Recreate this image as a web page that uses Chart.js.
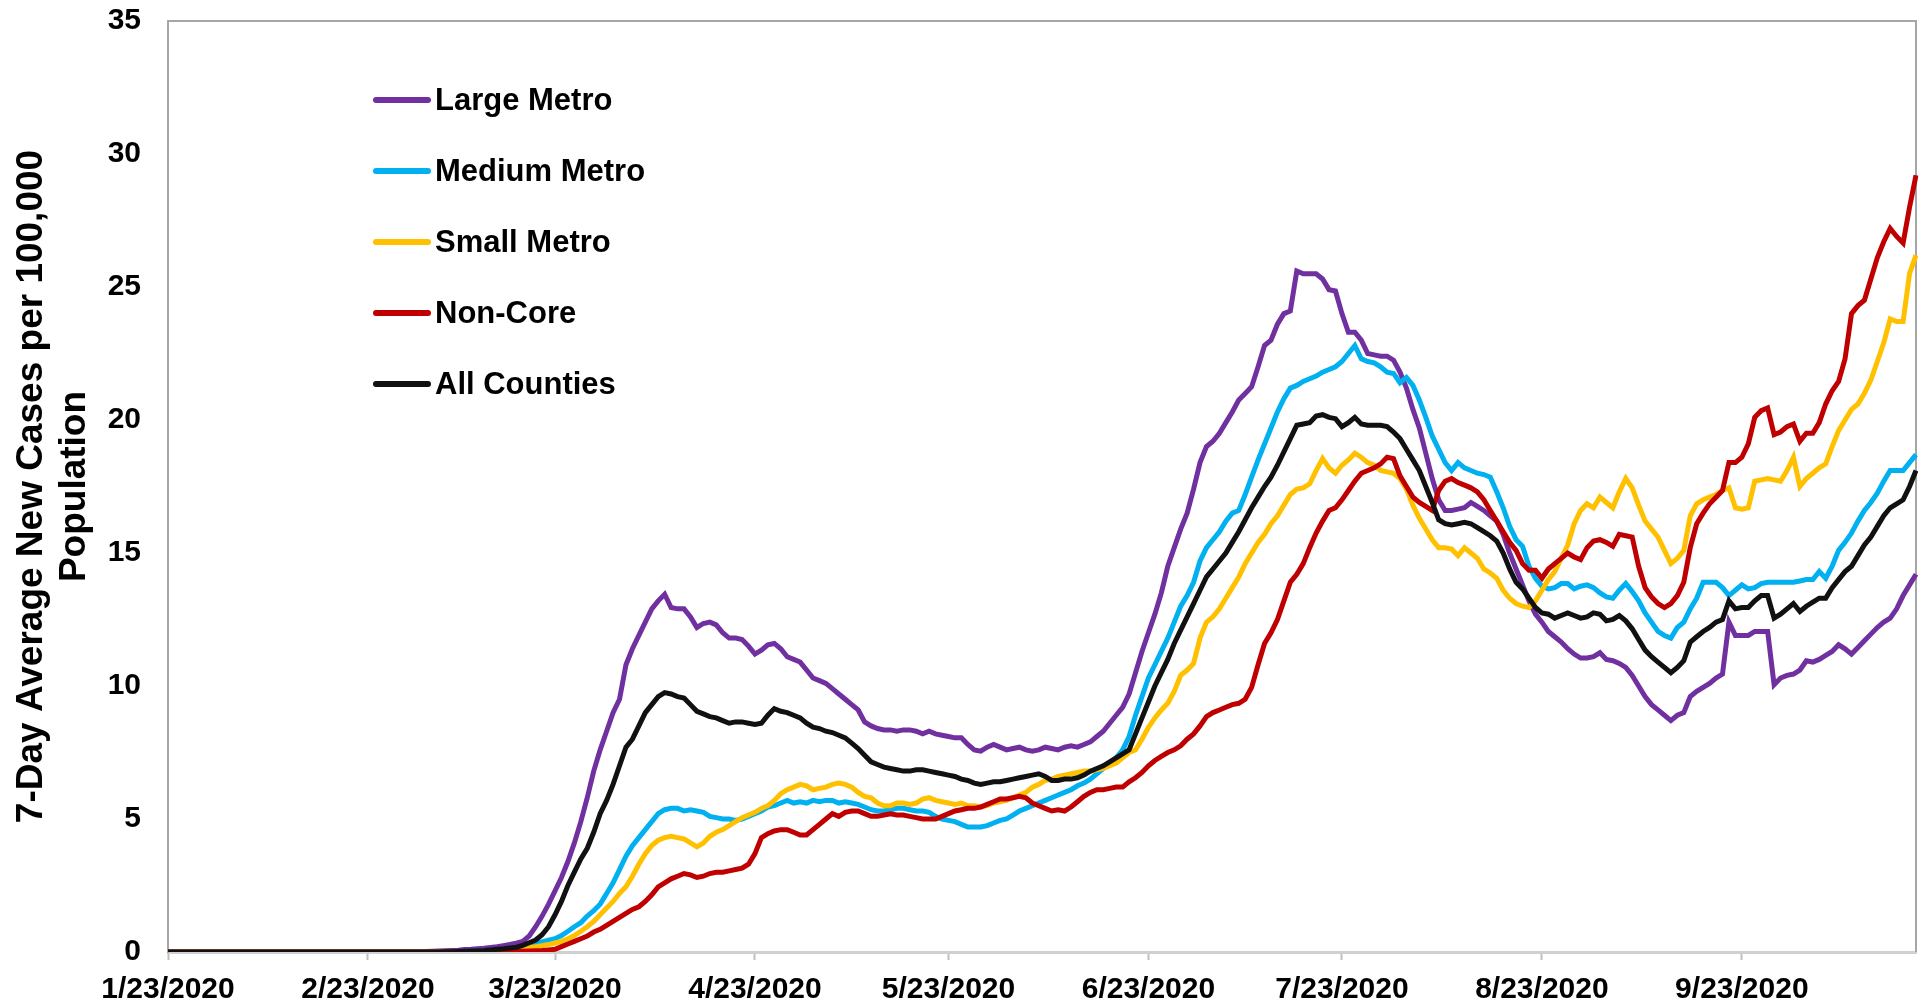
<!DOCTYPE html>
<html>
<head>
<meta charset="utf-8">
<script src="https://cdn.jsdelivr.net/npm/chart.js@4/dist/chart.umd.min.js"></script>
<style>
  html, body { margin: 0; padding: 0; background: #fff; overflow: hidden; }
  #wrap { width: 1921px; height: 1006px; }
</style>
</head>
<body>
<div id="wrap"><canvas id="casesChart" width="1921" height="1006"></canvas></div>
<script>
// daily categories, 1/23/2020 .. 10/20/2020
const firstDay = Date.UTC(2020, 0, 23);
const dayCount = 272;
const dateLabels = [];
for (let i = 0; i < dayCount; i++) {
    const d = new Date(firstDay + i * 86400000);
    dateLabels.push((d.getUTCMonth() + 1) + '/' + d.getUTCDate() + '/' + d.getUTCFullYear());
}

const seriesNames = ['Large Metro', 'Medium Metro', 'Small Metro', 'Non-Core', 'All Counties'];
const seriesColors = ['#7030A0', '#00B0F0', '#FFC000', '#C00000', '#111111'];

const largeMetro = [
    0,0,0,0,0,0,0,0,0,0, 0,0,0,0,0,0,0,0,0,0, 0,0,0,0,0,0,0,0,0,0, 0,0,0,0,0,0,0,0,0,0,
    0.02,0.03,0.04,0.05,0.06,0.07,0.09,0.1,0.12,0.14,
    0.17,0.2,0.24,0.28,0.33,0.4,0.6,0.95,1.35,1.8,
    2.3,2.8,3.4,4.1,4.9,5.8,6.8,7.6,8.3,9.0,
    9.5,10.8,11.4,11.9,12.4,12.9,13.2,13.45,12.95,12.9,
    12.9,12.6,12.2,12.35,12.4,12.3,12.0,11.8,11.8,11.75,
    11.5,11.2,11.35,11.55,11.6,11.4,11.1,11.0,10.9,10.6,
    10.3,10.2,10.1,9.9,9.7,9.5,9.3,9.1,8.65,8.5,
    8.4,8.35,8.35,8.3,8.35,8.35,8.3,8.2,8.3,8.2,
    8.15,8.1,8.05,8.05,7.8,7.6,7.55,7.7,7.8,7.7,
    7.6,7.65,7.7,7.6,7.55,7.6,7.7,7.65,7.6,7.7,
    7.75,7.7,7.8,7.9,8.1,8.3,8.6,8.9,9.2,9.7,
    10.5,11.3,12.0,12.7,13.5,14.5,15.2,15.9,16.5,17.4,
    18.4,19.0,19.2,19.5,19.9,20.3,20.75,21.0,21.25,22.0,
    22.8,23.0,23.6,24.0,24.1,25.6,25.5,25.5,25.5,25.3,
    24.9,24.85,24.0,23.3,23.3,23.0,22.5,22.45,22.4,22.4,
    22.25,21.8,21.2,20.4,19.7,18.75,17.8,17.0,16.6,16.6,
    16.65,16.7,16.9,16.75,16.6,16.4,16.2,15.7,15.0,14.4,
    13.8,13.2,12.7,12.4,12.05,11.85,11.65,11.4,11.2,11.05,
    11.05,11.1,11.25,11.0,10.95,10.85,10.7,10.4,10.0,9.6,
    9.3,9.1,8.9,8.7,8.9,9.0,9.6,9.8,9.95,10.1,
    10.3,10.45,12.4,11.9,11.9,11.9,12.05,12.05,12.05,10.05,
    10.3,10.4,10.45,10.6,10.95,10.9,11.0,11.15,11.3,11.55,
    11.4,11.2,11.45,11.7,11.95,12.2,12.4,12.55,12.9,13.4,
    13.8,14.2
];

const mediumMetro = [
    0,0,0,0,0,0,0,0,0,0, 0,0,0,0,0,0,0,0,0,0, 0,0,0,0,0,0,0,0,0,0, 0,0,0,0,0,0,0,0,0,0,
    0,0,0,0,0,0.01,0.02,0.03,0.04,0.05,
    0.06,0.08,0.1,0.12,0.15,0.2,0.26,0.32,0.38,0.44,
    0.5,0.62,0.78,0.95,1.1,1.35,1.55,1.8,2.2,2.6,
    3.1,3.6,4.0,4.3,4.6,4.9,5.2,5.35,5.4,5.4,
    5.3,5.35,5.3,5.25,5.1,5.05,5.0,5.0,4.95,5.0,
    5.1,5.2,5.3,5.45,5.5,5.6,5.7,5.6,5.65,5.6,
    5.7,5.65,5.7,5.7,5.6,5.65,5.6,5.55,5.45,5.35,
    5.3,5.3,5.35,5.4,5.4,5.35,5.3,5.3,5.25,5.1,
    5.0,4.95,4.9,4.8,4.7,4.7,4.7,4.75,4.85,4.95,
    5.0,5.15,5.3,5.4,5.5,5.6,5.7,5.8,5.9,6.0,
    6.1,6.25,6.35,6.5,6.7,6.9,7.1,7.3,7.6,8.1,
    8.9,9.6,10.3,10.8,11.3,11.8,12.4,13.0,13.4,13.9,
    14.7,15.2,15.5,15.8,16.2,16.5,16.6,17.2,17.85,18.5,
    19.1,19.7,20.3,20.8,21.2,21.3,21.45,21.55,21.65,21.8,
    21.9,22.0,22.2,22.5,22.8,22.3,22.2,22.15,22.0,21.8,
    21.75,21.4,21.6,21.3,20.75,20.1,19.4,18.9,18.4,18.1,
    18.4,18.2,18.1,18.0,17.95,17.85,17.3,16.7,16.0,15.5,
    15.25,14.5,14.05,13.75,13.65,13.7,13.85,13.85,13.65,13.75,
    13.8,13.7,13.5,13.35,13.3,13.6,13.85,13.55,13.2,12.75,
    12.4,12.05,11.9,11.8,12.2,12.4,12.9,13.3,13.9,13.9,
    13.9,13.7,13.4,13.6,13.8,13.65,13.7,13.85,13.9,13.9,
    13.9,13.9,13.9,13.95,14.0,14.0,14.3,14.05,14.5,15.1,
    15.4,15.75,16.2,16.6,16.9,17.25,17.7,18.1,18.1,18.1,
    18.4,18.7
];

const smallMetro = [
    0,0,0,0,0,0,0,0,0,0, 0,0,0,0,0,0,0,0,0,0, 0,0,0,0,0,0,0,0,0,0, 0,0,0,0,0,0,0,0,0,0,
    0,0,0,0,0,0,0,0.01,0.02,0.03,
    0.04,0.06,0.08,0.1,0.12,0.14,0.17,0.2,0.24,0.28,
    0.34,0.4,0.5,0.62,0.78,0.95,1.15,1.4,1.65,1.9,
    2.2,2.45,2.85,3.3,3.7,4.0,4.2,4.3,4.35,4.3,
    4.25,4.1,3.95,4.1,4.35,4.5,4.6,4.75,4.9,5.05,
    5.15,5.25,5.4,5.5,5.7,5.95,6.1,6.2,6.3,6.25,
    6.1,6.15,6.2,6.3,6.35,6.3,6.2,6.0,5.85,5.8,
    5.6,5.5,5.5,5.6,5.6,5.55,5.6,5.75,5.8,5.7,
    5.65,5.6,5.55,5.6,5.5,5.5,5.45,5.5,5.6,5.65,
    5.7,5.8,5.9,6.0,6.2,6.3,6.45,6.5,6.6,6.65,
    6.7,6.75,6.8,6.8,6.85,6.9,7.0,7.1,7.3,7.5,
    7.6,8.0,8.45,8.8,9.1,9.35,9.8,10.4,10.6,10.85,
    11.8,12.4,12.6,12.9,13.3,13.7,14.1,14.6,15.0,15.4,
    15.7,16.1,16.4,16.8,17.2,17.4,17.45,17.6,18.1,18.55,
    18.2,18.0,18.3,18.5,18.75,18.6,18.4,18.3,18.1,18.05,
    18.0,17.8,17.4,16.8,16.3,15.9,15.5,15.2,15.2,15.15,
    14.9,15.2,15.0,14.8,14.4,14.25,14.05,13.6,13.3,13.1,
    13.0,12.95,13.2,13.6,14.0,14.3,14.8,15.3,16.1,16.6,
    16.85,16.7,17.1,16.9,16.7,17.3,17.8,17.45,16.8,16.2,
    15.9,15.6,15.1,14.6,14.8,15.1,16.4,16.85,17.0,17.1,
    17.2,17.35,17.45,16.7,16.65,16.7,17.7,17.75,17.8,17.75,
    17.7,18.1,18.6,17.5,17.8,18.0,18.2,18.35,19.0,19.6,
    20.0,20.4,20.6,21.0,21.5,22.2,22.9,23.8,23.7,23.7,
    25.5,26.2
];

const nonCore = [
    0,0,0,0,0,0,0,0,0,0, 0,0,0,0,0,0,0,0,0,0, 0,0,0,0,0,0,0,0,0,0, 0,0,0,0,0,0,0,0,0,0,
    0,0,0,0,0,0,0,0,0,0,
    0,0,0,0.01,0.02,0.03,0.04,0.05,0.06,0.08,
    0.1,0.2,0.3,0.4,0.5,0.6,0.75,0.85,1.0,1.15,
    1.3,1.45,1.6,1.7,1.9,2.15,2.45,2.6,2.75,2.85,
    2.95,2.9,2.8,2.85,2.95,3.0,3.0,3.05,3.1,3.15,
    3.3,3.7,4.3,4.45,4.55,4.6,4.6,4.5,4.4,4.4,
    4.6,4.8,5.0,5.2,5.1,5.25,5.3,5.3,5.2,5.1,
    5.1,5.15,5.2,5.15,5.15,5.1,5.05,5.0,5.0,5.0,
    5.1,5.2,5.3,5.35,5.4,5.4,5.45,5.55,5.65,5.75,
    5.75,5.8,5.85,5.8,5.6,5.5,5.4,5.3,5.35,5.3,
    5.45,5.65,5.85,6.0,6.1,6.1,6.15,6.2,6.2,6.4,
    6.55,6.75,7.0,7.2,7.35,7.5,7.6,7.75,8.0,8.2,
    8.5,8.85,9.0,9.1,9.2,9.3,9.35,9.5,9.95,10.8,
    11.6,12.0,12.5,13.2,13.9,14.2,14.6,15.2,15.75,16.2,
    16.6,16.7,17.0,17.35,17.7,18.0,18.1,18.2,18.35,18.6,
    18.55,17.9,17.5,17.1,16.9,16.75,16.6,17.35,17.7,17.8,
    17.65,17.55,17.45,17.3,17.0,16.6,16.2,15.8,15.4,15.1,
    14.6,14.35,14.35,14.05,14.4,14.6,14.8,15.0,14.85,14.75,
    15.2,15.45,15.5,15.4,15.25,15.7,15.65,15.6,14.5,13.7,
    13.35,13.1,12.95,13.1,13.4,13.9,15.2,16.1,16.5,16.85,
    17.1,17.35,18.4,18.4,18.6,19.1,20.1,20.35,20.45,19.45,
    19.55,19.75,19.85,19.2,19.5,19.5,19.9,20.6,21.1,21.45,
    22.3,24.0,24.3,24.5,25.3,26.1,26.7,27.2,26.9,26.65,
    28.0,29.2
];

const allCounties = [
    0,0,0,0,0,0,0,0,0,0, 0,0,0,0,0,0,0,0,0,0, 0,0,0,0,0,0,0,0,0,0, 0,0,0,0,0,0,0,0,0,0,
    0,0,0,0.01,0.01,0.02,0.03,0.04,0.05,0.06,
    0.08,0.1,0.12,0.15,0.18,0.25,0.35,0.45,0.65,0.95,
    1.4,1.9,2.5,3.0,3.5,3.9,4.5,5.2,5.7,6.3,
    7.0,7.7,8.0,8.5,9.0,9.3,9.6,9.75,9.7,9.6,
    9.55,9.3,9.05,8.95,8.85,8.8,8.7,8.6,8.65,8.65,
    8.6,8.55,8.6,8.9,9.15,9.05,9.0,8.9,8.8,8.6,
    8.45,8.4,8.3,8.25,8.15,8.05,7.85,7.65,7.4,7.15,
    7.05,6.95,6.9,6.85,6.8,6.8,6.85,6.85,6.8,6.75,
    6.7,6.65,6.6,6.5,6.45,6.35,6.3,6.35,6.4,6.4,
    6.45,6.5,6.55,6.6,6.65,6.7,6.6,6.45,6.45,6.5,
    6.5,6.55,6.65,6.8,6.9,7.0,7.15,7.3,7.45,7.6,
    8.2,8.8,9.4,10.0,10.5,11.0,11.6,12.1,12.6,13.1,
    13.6,14.1,14.4,14.7,15.0,15.4,15.8,16.25,16.7,17.1,
    17.5,17.85,18.3,18.8,19.3,19.8,19.85,19.9,20.15,20.2,
    20.1,20.05,19.75,19.9,20.1,19.85,19.8,19.8,19.8,19.75,
    19.55,19.3,18.9,18.5,18.1,17.5,16.9,16.25,16.1,16.05,
    16.1,16.15,16.1,15.95,15.8,15.65,15.45,15.0,14.4,13.9,
    13.65,13.3,12.95,12.75,12.7,12.55,12.65,12.75,12.65,12.55,
    12.6,12.75,12.7,12.45,12.5,12.65,12.45,12.15,11.75,11.35,
    11.1,10.9,10.7,10.5,10.7,10.95,11.65,11.85,12.05,12.2,
    12.4,12.5,13.2,12.9,12.95,12.95,13.2,13.4,13.4,12.55,
    12.7,12.9,13.1,12.8,13.0,13.15,13.3,13.3,13.7,14.0,
    14.3,14.5,14.9,15.3,15.6,16.0,16.4,16.7,16.85,17.0,
    17.5,18.1
];

const seriesValues = [largeMetro, mediumMetro, smallMetro, nonCore, allCounties];
const yTicks = [0, 5, 10, 15, 20, 25, 30, 35];

const FONT = '"Liberation Sans", Arial, sans-serif';

// legend sits inside the plot, stacked on the left
const insideLegend = {
    id: 'insideLegend',
    afterDraw(chart) {
        const { ctx, chartArea } = chart;
        ctx.save();
        ctx.font = 'bold 31px ' + FONT;
        ctx.textBaseline = 'middle';
        ctx.lineCap = 'round';
        chart.data.datasets.forEach((ds, i) => {
            const y = chartArea.top + 79 + i * 71;
            const x = chartArea.left + 208;
            ctx.strokeStyle = ds.borderColor;
            ctx.lineWidth = 6;
            ctx.beginPath();
            ctx.moveTo(x, y);
            ctx.lineTo(x + 52, y);
            ctx.stroke();
            ctx.fillStyle = '#000';
            ctx.fillText(ds.label, x + 59, y + 1);
        });
        ctx.restore();
    }
};

// top and right edges of the plot frame
const plotFrame = {
    id: 'plotFrame',
    beforeDatasetsDraw(chart) {
        const { ctx, chartArea: a } = chart;
        ctx.save();
        ctx.strokeStyle = '#a6a6a6';
        ctx.lineWidth = 2;
        ctx.beginPath();
        ctx.moveTo(a.left, a.top);
        ctx.lineTo(a.right, a.top);
        ctx.lineTo(a.right, a.bottom);
        ctx.stroke();
        ctx.restore();
    }
};

const ctx = document.getElementById('casesChart').getContext('2d');

new Chart(ctx, {
    type: 'line',
    data: {
        labels: dateLabels,
        datasets: seriesNames.map((name, i) => ({
            label: name,
            data: seriesValues[i],
            borderColor: seriesColors[i],
            backgroundColor: seriesColors[i],
            borderWidth: 5,
            pointRadius: 0,
            tension: 0,
            order: seriesNames.length - i // later series drawn on top
        }))
    },
    options: {
        responsive: false,
        devicePixelRatio: 1,
        animation: false,
        layout: { padding: { top: 21, right: 5, left: 0, bottom: 0 } },
        plugins: {
            legend: { display: false },
            tooltip: { enabled: false }
        },
        scales: {
            x: {
                type: 'category',
                afterBuildTicks: (axis) => {
                    axis.ticks = axis.ticks.filter(t => dateLabels[t.value].split('/')[1] === '23');
                },
                afterFit: (scale) => { scale.height = 54; },
                grid: {
                    drawOnChartArea: false,
                    drawTicks: true,
                    tickLength: 8,
                    tickColor: '#bfbfbf',
                    tickWidth: 2
                },
                border: { color: '#d0d0d0', width: 3 },
                ticks: {
                    autoSkip: false,
                    maxRotation: 0,
                    minRotation: 0,
                    padding: 12,
                    color: '#000',
                    font: { family: FONT, size: 30, weight: 'bold' }
                }
            },
            y: {
                min: 0,
                max: 35,
                afterBuildTicks: (axis) => {
                    axis.ticks = yTicks.map(v => ({ value: v }));
                },
                afterFit: (scale) => {
                    scale.width = 168;
                    scale.paddingTop = 0;
                    scale.paddingBottom = 0;
                },
                grid: { display: false, drawTicks: false },
                border: { color: '#a6a6a6', width: 2 },
                ticks: {
                    padding: 27,
                    color: '#000',
                    font: { family: FONT, size: 30, weight: 'bold' }
                },
                title: {
                    display: true,
                    text: ['7-Day Average New Cases per 100,000', 'Population'],
                    color: '#000',
                    padding: { top: 10, bottom: 0 },
                    font: { family: FONT, size: 37, weight: 'bold', lineHeight: 1.175 }
                }
            }
        }
    },
    plugins: [plotFrame, insideLegend]
});
</script>
</body>
</html>
